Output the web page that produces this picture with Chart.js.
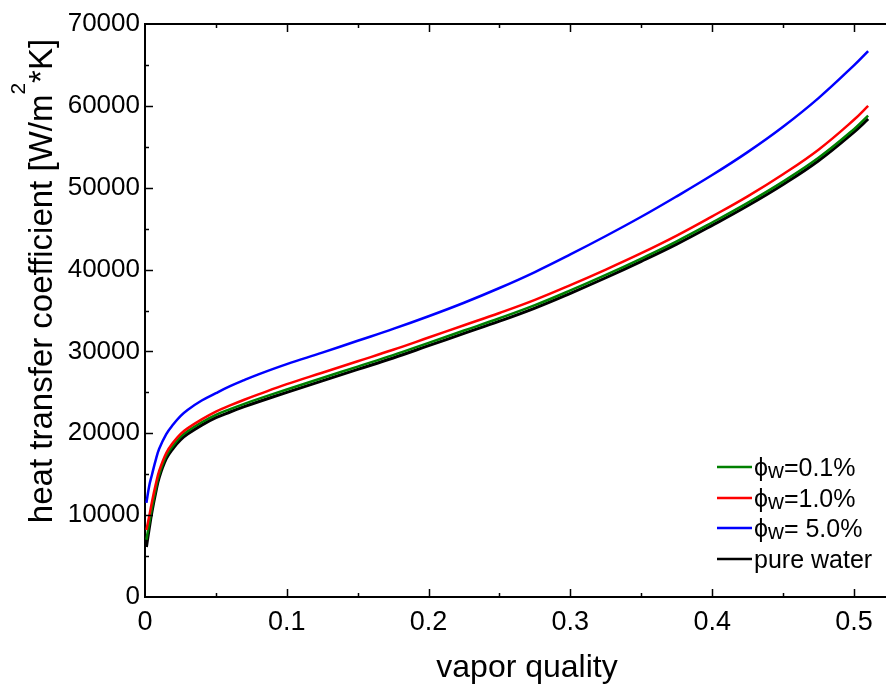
<!DOCTYPE html>
<html>
<head>
<meta charset="utf-8">
<script src="https://cdn.jsdelivr.net/npm/chart.js@4/dist/chart.umd.min.js"></script>
<style>
html,body{margin:0;padding:0;background:#fff;}
canvas{display:block;}
</style>
</head>
<body>
<canvas id="c" width="886" height="685"></canvas>
<script>
// ---- data ----
const vaporQuality = [0.001, 0.003, 0.005, 0.0075, 0.01, 0.015, 0.02, 0.025, 0.03, 0.04, 0.05, 0.06, 0.07, 0.08, 0.1, 0.125, 0.15, 0.175, 0.2, 0.225, 0.25, 0.275, 0.3, 0.325, 0.35, 0.375, 0.4, 0.425, 0.45, 0.475, 0.5, 0.51];
const htcPhi01 = [7000, 9000, 10950, 13100, 14950, 17250, 18550, 19550, 20250, 21350, 22250, 22950, 23600, 24200, 25350, 26750, 28150, 29550, 31050, 32550, 34050, 35650, 37450, 39350, 41350, 43450, 45750, 48150, 50750, 53650, 57150, 58800];
const htcPhi10 = [8200, 9900, 11700, 13700, 15400, 17600, 18900, 19900, 20600, 21700, 22650, 23400, 24100, 24750, 26000, 27400, 28800, 30200, 31700, 33200, 34700, 36300, 38100, 40000, 42000, 44150, 46500, 48950, 51650, 54650, 58300, 60000];
const htcPhi50 = [11500, 13600, 15000, 16700, 18100, 19900, 21100, 22100, 22850, 24000, 24900, 25750, 26500, 27200, 28450, 29850, 31300, 32750, 34300, 35950, 37750, 39700, 41850, 44100, 46450, 48950, 51550, 54350, 57450, 60950, 64950, 66700];
const htcPureWater = [6100, 8400, 10500, 12700, 14600, 16900, 18200, 19200, 19900, 21000, 21900, 22600, 23250, 23850, 25000, 26400, 27800, 29200, 30700, 32200, 33700, 35300, 37100, 39000, 41000, 43100, 45400, 47800, 50400, 53300, 56800, 58400];

const seriesLabels = ["\u03d5w=0.1%", "\u03d5w=1.0%", "\u03d5w= 5.0%", "pure water"];
const xMajorTicks = [0, 0.1, 0.2, 0.3, 0.4, 0.5];
const xMinorTicks = [0.05, 0.15, 0.25, 0.35, 0.45];
const yMajorTicks = [0, 10000, 20000, 30000, 40000, 50000, 60000, 70000];
const yMinorTicks = [5000, 15000, 25000, 35000, 45000, 55000, 65000];
const xTitle = "vapor quality";
const yTitleParts = ["heat transfer coefficient [W/m", "2", "*K]"];

const FONT = "'Liberation Sans', Arial, sans-serif";
const toPts = ys => vaporQuality.map((x, i) => ({x: x, y: ys[i]}));

const colors = {green: '#008000', red: '#ff0000', blue: '#0000ff', black: '#000000'};

// ---- plugins ----
const axisDecor = {
  id: 'axisDecor',
  afterDraw(chart) {
    const ctx = chart.ctx, ca = chart.chartArea;
    const xs = chart.scales.x, ys = chart.scales.y;
    ctx.save();
    ctx.strokeStyle = '#000';
    ctx.lineWidth = 2;
    // top frame line
    ctx.beginPath();
    ctx.moveTo(ca.left - 1, ca.top);
    ctx.lineTo(chart.width, ca.top);
    ctx.stroke();
    ctx.lineWidth = 1.5;
    const xt = (arr, len) => arr.forEach(v => {
      if (v === 0) return;
      const p = Math.round(xs.getPixelForValue(v)) + 0.5;
      ctx.beginPath();
      ctx.moveTo(p, ca.bottom); ctx.lineTo(p, ca.bottom - len);
      ctx.moveTo(p, ca.top); ctx.lineTo(p, ca.top + len);
      ctx.stroke();
    });
    xt(xMajorTicks, 8); xt(xMinorTicks, 4);
    const yt = (arr, len) => arr.forEach(v => {
      if (v === 0 || v === 70000) return;
      const p = Math.round(ys.getPixelForValue(v)) + 0.5;
      ctx.beginPath();
      ctx.moveTo(ca.left, p); ctx.lineTo(ca.left + len, p);
      ctx.stroke();
    });
    yt(yMajorTicks, 8); yt(yMinorTicks, 4);

    // x title
    ctx.fillStyle = '#000';
    ctx.font = "32px " + FONT;
    ctx.textAlign = 'center';
    ctx.textBaseline = 'alphabetic';
    ctx.fillText(xTitle, 527, 677);

    // y title (rotated, with superscript)
    ctx.save();
    ctx.translate(52, 281);
    ctx.rotate(-Math.PI / 2);
    const big = "33px " + FONT, small = "21px " + FONT;
    ctx.font = big; const w0 = ctx.measureText(yTitleParts[0]).width;
    const w2 = ctx.measureText(yTitleParts[2]).width;
    ctx.font = small; const w1 = ctx.measureText(yTitleParts[1]).width;
    const total = w0 + w1 + w2;
    let x = -total / 2;
    ctx.textAlign = 'left';
    ctx.font = big; ctx.fillText(yTitleParts[0], x, 0); x += w0;
    ctx.font = small; ctx.fillText(yTitleParts[1], x, -27); x += w1;
    ctx.font = big; ctx.fillText(yTitleParts[2], x, 0);
    ctx.restore();

    // legend
    const legendOrder = [0, 1, 2, 3];
    const lineColors = [colors.green, colors.red, colors.blue, colors.black];
    const ly = [467, 498, 528, 559];
    legendOrder.forEach((k, i) => {
      ctx.strokeStyle = lineColors[k];
      ctx.lineWidth = 2.5;
      ctx.beginPath();
      ctx.moveTo(717, ly[i]); ctx.lineTo(752, ly[i]);
      ctx.stroke();
      const lab = seriesLabels[k];
      ctx.fillStyle = '#000';
      ctx.textAlign = 'left';
      ctx.textBaseline = 'alphabetic';
      const base = ly[i] + 9;
      let tx = 754;
      if (lab.startsWith("\u03d5w")) {
        ctx.font = "25px " + FONT;
        ctx.fillText("\u03d5", tx, base); tx += ctx.measureText("\u03d5").width;
        ctx.font = "22px " + FONT;
        ctx.fillText("w", tx, base + 2); tx += ctx.measureText("w").width;
        ctx.font = "25px " + FONT;
        ctx.fillText(lab.slice(2), tx, base);
      } else {
        ctx.font = "25px " + FONT;
        ctx.fillText(lab, tx, base);
      }
    });
    ctx.restore();
  }
};

new Chart(document.getElementById('c'), {
  type: 'line',
  data: {
    datasets: [
      {label: seriesLabels[2], data: toPts(htcPhi50), borderColor: colors.blue, borderWidth: 2.5},
      {label: seriesLabels[1], data: toPts(htcPhi10), borderColor: colors.red, borderWidth: 2.5},
      {label: seriesLabels[0], data: toPts(htcPhi01), borderColor: colors.green, borderWidth: 2.5},
      {label: seriesLabels[3], data: toPts(htcPureWater), borderColor: colors.black, borderWidth: 3}
    ]
  },
  options: {
    responsive: false,
    animation: false,
    elements: {point: {radius: 0}, line: {tension: 0.4, fill: false}},
    layout: {padding: {top: 24, left: 0, right: 0, bottom: 0}},
    plugins: {legend: {display: false}, tooltip: {enabled: false}, title: {display: false}},
    scales: {
      x: {
        type: 'linear',
        min: 0,
        max: 0.5226,
        afterBuildTicks: s => { s.ticks = xMajorTicks.map(v => ({value: v})); },
        afterFit: s => { s.height = 88; },
        grid: {display: false, drawTicks: false, tickLength: 0},
        border: {display: true, color: '#000', width: 2},
        ticks: {
          color: '#000',
          padding: 9,
          maxRotation: 0,
          autoSkip: false,
          font: {family: FONT, size: 27},
          callback: v => String(Math.round(v * 10) / 10)
        }
      },
      y: {
        type: 'linear',
        min: 0,
        max: 70000,
        afterBuildTicks: s => { s.ticks = yMajorTicks.map(v => ({value: v})); },
        afterFit: s => { s.width = 145; },
        grid: {display: false, drawTicks: false, tickLength: 0},
        border: {display: true, color: '#000', width: 2},
        ticks: {
          color: '#000',
          padding: 5,
          font: {family: FONT, size: 26},
          callback: v => String(v)
        }
      }
    }
  },
  plugins: [axisDecor]
});
</script>
</body>
</html>
